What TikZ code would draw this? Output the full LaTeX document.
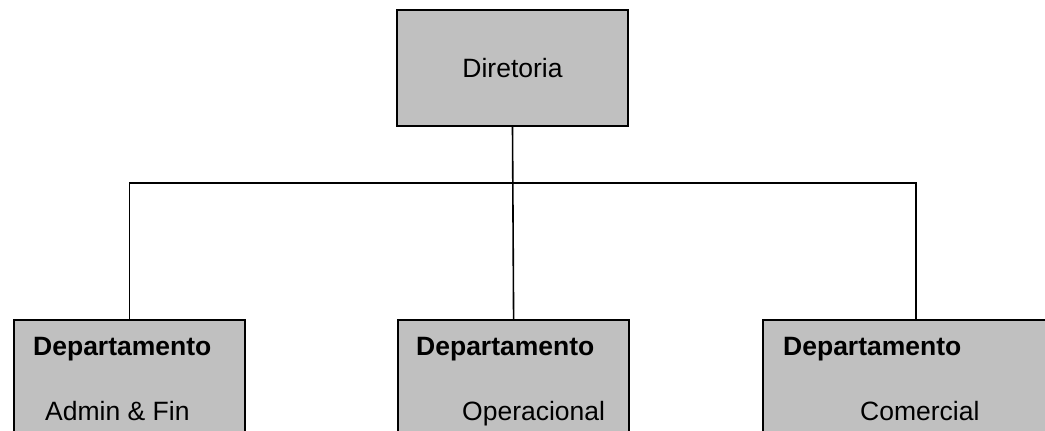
\documentclass[tikz,border=0pt]{standalone}
\usepackage{fontspec}
\setmainfont{Liberation Sans}
\begin{document}
\begin{tikzpicture}[x=1pt,y=1pt,
  box/.style={draw=black,line width=2.2pt,fill={rgb,255:red,192;green,192;blue,192},rectangle,inner sep=0pt},
  conn/.style={draw=black,line width=1.6pt},
  txt/.style={font=\fontsize{26.5}{30}\selectfont,inner sep=0pt,anchor=base west},
  btxt/.style={font=\fontsize{26.5}{30}\selectfont\bfseries,inner sep=0pt,anchor=base west}]
\useasboundingbox (0,0) rectangle (1045,-431);
\clip (0,0) rectangle (1045,-431);
\node[box,minimum width=231pt,minimum height=116pt] (dir) at (512.5,-68) {};
\node[font=\fontsize{26.5}{30}\selectfont,inner sep=0pt] (dirt) at (dir.center) {Diretoria};
\node[box,minimum width=231pt,minimum height=130pt,anchor=north west] (a) at (13,-319) {};
\node[box,minimum width=231pt,minimum height=130pt,anchor=north west] (b) at (397,-319) {};
\node[box,minimum width=306pt,minimum height=130pt,anchor=north west] (c) at (762,-319) {};
\coordinate (bus) at (512,-183);
\draw[conn] (dir.south) -- (b.north);
\draw[conn] (a.north) |- (bus) -| (c.north);
\node[btxt] (a1) at (33,-355) {Departamento};
\node[txt] (a2) at (45,-420) {Admin \& Fin};
\node[btxt] (b1) at (416,-355) {Departamento};
\node[txt] (b2) at (462,-420) {Operacional};
\node[btxt] (c1) at (783,-355) {Departamento};
\node[txt] (c2) at (860,-420) {Comercial};
\end{tikzpicture}
\end{document}
